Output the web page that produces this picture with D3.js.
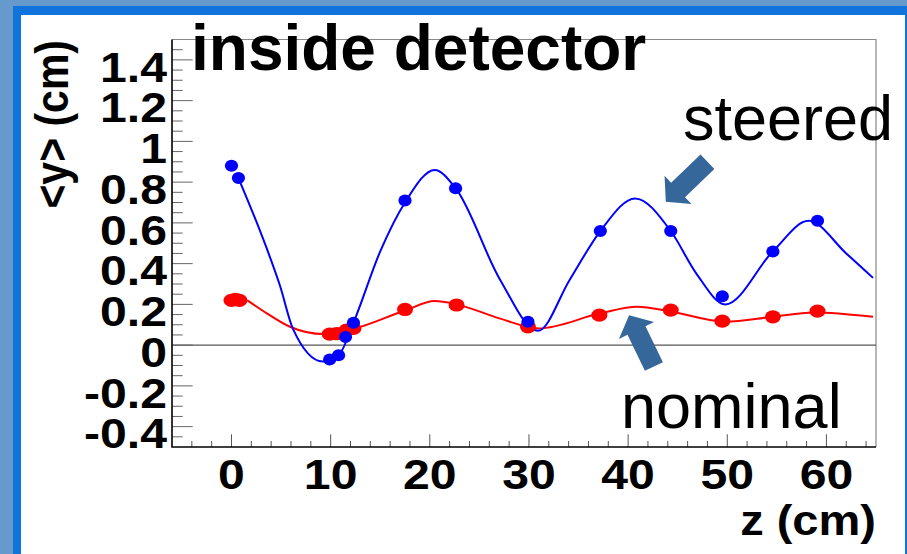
<!DOCTYPE html>
<html>
<head>
<meta charset="utf-8">
<script src="https://cdn.jsdelivr.net/npm/d3@7"></script>
<style>
body { margin: 0; background: #fff; }
svg { display: block; font-family: 'Liberation Sans', Arial, sans-serif; }
</style>
</head>
<body>
<svg></svg>
<script>
// measured points, steered beam
const steeredZ = [0, 0.7, 9.9, 10.8, 11.5, 12.3, 17.5, 22.6, 29.9, 37.2, 44.3, 49.5, 54.6, 59.1];
const steeredY = [0.88, 0.82, -0.07, -0.05, 0.04, 0.11, 0.71, 0.77, 0.115, 0.56, 0.56, 0.24, 0.46, 0.61];

// measured points, nominal beam
const nominalZ = [0, 0.4, 0.8, 9.9, 10.6, 11.6, 12.3, 17.5, 22.7, 29.9, 37.1, 44.3, 49.5, 54.6, 59.1];
const nominalY = [0.22, 0.225, 0.22, 0.054, 0.056, 0.074, 0.082, 0.175, 0.197, 0.09, 0.147, 0.172, 0.118, 0.139, 0.167];

// fit curves
const steeredFitZ = [0.7, 3.2, 4.9, 6.2, 9.2, 10.8, 12.3, 15.0, 17.5, 20.5, 22.6, 27.1, 30.9, 34.1, 37.2, 40.7, 44.3, 46.9, 49.8, 54.6, 58.2, 62.0, 64.7];
const steeredFitY = [0.82, 0.52, 0.29, 0.08, -0.08, -0.05, 0.11, 0.46, 0.70, 0.86, 0.77, 0.32, 0.07, 0.32, 0.56, 0.72, 0.56, 0.35, 0.20, 0.46, 0.61, 0.45, 0.33];

const nominalFitZ = [1.6, 3.6, 5.9, 9.3, 12.3, 17.5, 20.5, 22.7, 27.1, 31.0, 37.2, 40.9, 44.3, 49.8, 54.6, 58.7, 64.7];
const nominalFitY = [0.22, 0.155, 0.09, 0.054, 0.08, 0.17, 0.216, 0.20, 0.13, 0.082, 0.156, 0.188, 0.165, 0.115, 0.139, 0.16, 0.139];

// axis ticks
const xMajor = [0, 10, 20, 30, 40, 50, 60];
const xTickLabels = ['0', '10', '20', '30', '40', '50', '60'];
const yMajor = [1.4, 1.2, 1, 0.8, 0.6, 0.4, 0.2, 0, -0.2, -0.4];
const yTickLabels = ['1.4', '1.2', '1', '0.8', '0.6', '0.4', '0.2', '0', '-0.2', '-0.4'];

// annotation arrows (tip and tail, in plot units)
const arrowTipZ = [43.8, 40.1];
const arrowTipY = [0.704, 0.147];
const arrowTailZ = [48.0, 42.6];
const arrowTailY = [0.90, -0.105];

const size = {w: 907, h: 554};
const plot = {l: 172, r: 876, t: 39.5, b: 447};
const stretch = 1.12; // the ROOT picture was pasted a bit wider than tall

const svg = d3.select('svg')
    .attr('width', size.w)
    .attr('height', size.h);

// slide frame
svg.append('rect').attr('width', size.w).attr('height', size.h).attr('fill', '#6699cc');
svg.append('rect').attr('x', 13).attr('y', 6).attr('width', size.w - 13).attr('height', size.h).attr('fill', '#1174dc');
svg.append('rect').attr('x', 21).attr('y', 15).attr('width', 905 - 21).attr('height', size.h).attr('fill', '#fff');

let x = d3.scaleLinear().domain([-6, 65]).range([plot.l, plot.r]);
let y = d3.scaleLinear().domain([-0.5, 1.5]).range([plot.b, plot.t]);

const g = svg.append('g');

// frame top / right
g.append('path')
    .attr('d', `M${plot.l},${plot.t}H${plot.r}V${plot.b}`)
    .attr('fill', 'none')
    .attr('stroke', '#888')
    .attr('stroke-width', 1.2);

// zero line
g.append('line')
    .attr('x1', plot.l).attr('x2', plot.r)
    .attr('y1', y(0)).attr('y2', y(0))
    .attr('stroke', '#555')
    .attr('stroke-width', 1.2);

// ticks (inward)
g.selectAll('.xminor')
    .data(d3.range(-4, 65, 2))
    .join('line')
    .attr('x1', d => x(d)).attr('x2', d => x(d))
    .attr('y1', plot.b).attr('y2', d => plot.b - (d % 10 === 0 ? 12.7 : 6))
    .attr('stroke', '#555');

g.selectAll('.yminor')
    .data(d3.range(-0.45, 1.5, 0.05))
    .join('line')
    .attr('y1', d => y(d)).attr('y2', d => y(d))
    .attr('x1', plot.l)
    .attr('x2', d => plot.l + (Math.abs(Math.round(d * 100) % 20) === 0 ? 20.7 : 10.7))
    .attr('stroke', '#666');

// axis lines
g.append('path')
    .attr('d', `M${plot.l},${plot.t}V${plot.b}H${plot.r}`)
    .attr('fill', 'none')
    .attr('stroke', '#000')
    .attr('stroke-width', 1.6);

// tick labels
g.selectAll('.xlab')
    .data(xMajor)
    .join('text')
    .attr('transform', d => `translate(${x(d)},488.5) scale(${stretch},1)`)
    .attr('text-anchor', 'middle')
    .attr('font-weight', 'bold')
    .attr('font-size', 43)
    .text((d, i) => xTickLabels[i]);

g.selectAll('.ylab')
    .data(yMajor)
    .join('text')
    .attr('transform', d => `translate(167,${y(d) + 21.8}) scale(${stretch},1)`)
    .attr('text-anchor', 'end')
    .attr('font-weight', 'bold')
    .attr('font-size', 43)
    .text((d, i) => yTickLabels[i]);

// axis titles
g.append('text')
    .attr('transform', `translate(876,535) scale(${stretch},1)`)
    .attr('text-anchor', 'end')
    .attr('font-weight', 'bold')
    .attr('font-size', 42)
    .text('z (cm)');

g.append('text')
    .attr('transform', `translate(68,40) rotate(-90) scale(1,${stretch})`)
    .attr('text-anchor', 'end')
    .attr('font-weight', 'bold')
    .attr('font-size', 41)
    .text('<y> (cm)');

// fit curves
let line = d3.line()
    .x(d => x(d[0]))
    .y(d => y(d[1]))
    .curve(d3.curveMonotoneX);

g.append('path')
    .datum(d3.zip(nominalFitZ, nominalFitY))
    .attr('d', line)
    .attr('fill', 'none')
    .attr('stroke', '#ff0000')
    .attr('stroke-width', 2);

g.append('path')
    .datum(d3.zip(steeredFitZ, steeredFitY))
    .attr('d', line)
    .attr('fill', 'none')
    .attr('stroke', '#0000ff')
    .attr('stroke-width', 2);

// markers
g.selectAll('.nom')
    .data(d3.zip(nominalZ, nominalY))
    .join('ellipse')
    .attr('cx', d => x(d[0]))
    .attr('cy', d => y(d[1]))
    .attr('rx', 8)
    .attr('ry', 6.6)
    .attr('fill', '#ff0000');

g.selectAll('.ste')
    .data(d3.zip(steeredZ, steeredY))
    .join('ellipse')
    .attr('cx', d => x(d[0]))
    .attr('cy', d => y(d[1]))
    .attr('rx', 6.6)
    .attr('ry', 6)
    .attr('fill', '#0000ff');

// slide text on top
svg.append('text')
    .attr('x', 191).attr('y', 70)
    .attr('font-weight', 'bold')
    .attr('font-size', 64)
    .text('inside detector');

svg.append('text')
    .attr('x', 683).attr('y', 140)
    .attr('font-size', 63)
    .text('steered');

svg.append('text')
    .attr('x', 621).attr('y', 428)
    .attr('font-size', 63)
    .text('nominal');

function arrowPoints(tip, tail, headLen, headW, shaftW) {
    let dx = tail[0] - tip[0], dy = tail[1] - tip[1];
    let len = Math.hypot(dx, dy);
    let ux = dx / len, uy = dy / len;
    let px = -uy, py = ux;
    let b = [tip[0] + ux * headLen, tip[1] + uy * headLen];
    let pt = (base, off) => [base[0] + px * off, base[1] + py * off];
    return [tip, pt(b, headW / 2), pt(b, shaftW / 2), pt(tail, shaftW / 2),
        pt(tail, -shaftW / 2), pt(b, -shaftW / 2), pt(b, -headW / 2)];
}

svg.selectAll('.arrow')
    .data(arrowTipZ.map((z, i) => i))
    .join('polygon')
    .attr('points', i => arrowPoints(
        [x(arrowTipZ[i]), y(arrowTipY[i])],
        [x(arrowTailZ[i]), y(arrowTailY[i])], 17, 39, 20).join(' '))
    .attr('fill', '#35679a');
</script>
</body>
</html>
